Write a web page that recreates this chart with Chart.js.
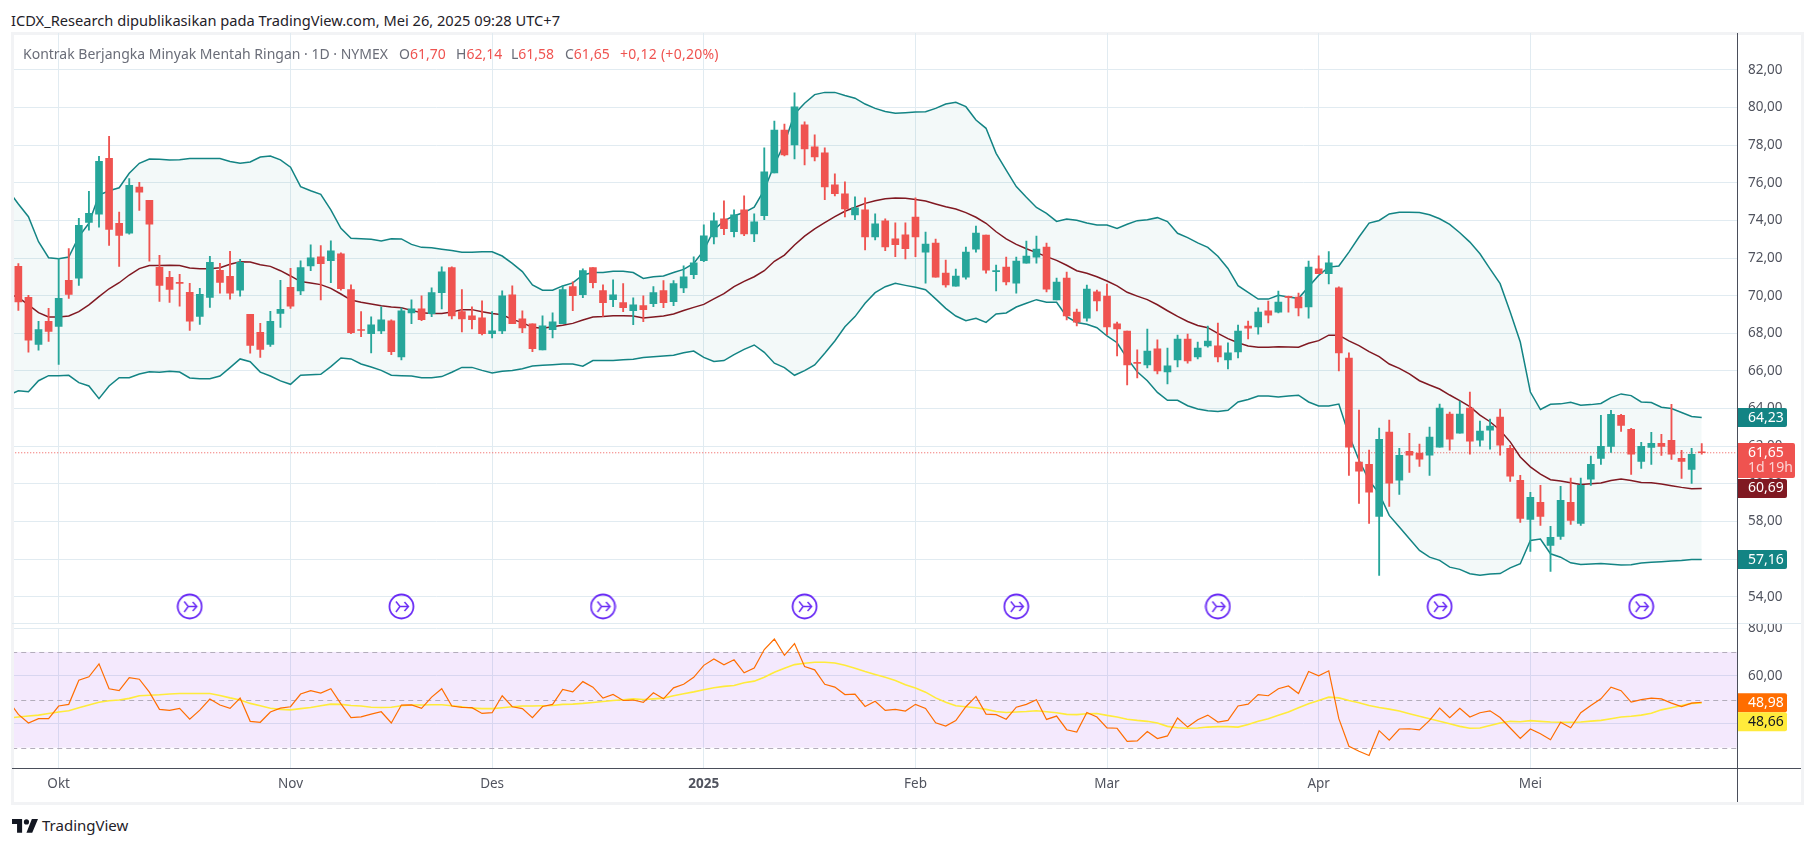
<!DOCTYPE html>
<html>
<head>
<meta charset="utf-8">
<title>Kontrak Berjangka Minyak Mentah Ringan</title>
<script src="https://cdn.jsdelivr.net/npm/chart.js@4/dist/chart.umd.min.js"></script>
<style>
  html, body { margin: 0; padding: 0; background: #fff; width: 1815px; height: 847px; overflow: hidden; font-family: "Noto Sans", sans-serif; }
  .abs { position: absolute; }
  .pane { position: absolute; left: 12px; width: 1789px; overflow: hidden; }
  .pane canvas { position: absolute; left: -12px; top: 0; }
  #publisher { left: 11px; top: 10px; font-size: 14.65px; color: #1f2229; white-space: nowrap; }
  .legend { top: 44px; font-size: 14px; color: #6a6d78; white-space: nowrap; z-index: 3; }
  .legend b { font-weight: normal; color: #ef5350; }
  #brand { left: 42px; top: 815px; font-size: 15px; color: #1f2229; }
</style>
</head>
<body>
<div class="abs" id="publisher">ICDX_Research dipublikasikan pada TradingView.com, Mei 26, 2025 09:28 UTC+7</div>
<div class="abs" style="left:11px;top:32px;width:1790px;height:3px;background:#f2f3f5"></div>
<div class="abs" style="left:11px;top:32px;width:3px;height:772px;background:#f2f3f5;z-index:2"></div>
<div class="abs" style="left:11px;top:802px;width:1790px;height:3px;background:#f2f3f5"></div>
<div class="abs" style="left:1801px;top:32px;width:3px;height:773px;background:#f2f3f5"></div>
<div class="pane" style="top:33px;height:590px"><canvas id="priceChart" width="1815" height="590"></canvas></div>
<div class="pane" style="top:623px;height:179px"><canvas id="rsiChart" width="1815" height="179"></canvas></div>
<div class="abs" style="left:12px;top:623px;width:1789px;height:1px;background:#e1ebf1;z-index:2"></div>
<div class="abs" style="left:12px;top:768px;width:1789px;height:1px;background:#4a4e5a;z-index:2"></div>
<div class="abs" style="left:1737px;top:33px;width:1px;height:769px;background:#4a4e5a;z-index:2"></div>
<div class="abs legend" style="left:23px">Kontrak Berjangka Minyak Mentah Ringan · 1D · NYMEX</div>
<div class="abs legend" style="left:399px">O<b>61,70</b></div>
<div class="abs legend" style="left:456px">H<b>62,14</b></div>
<div class="abs legend" style="left:511px">L<b>61,58</b></div>
<div class="abs legend" style="left:565px">C<b>61,65</b></div>
<div class="abs legend" style="left:620px;letter-spacing:0.25px"><b>+0,12 (+0,20%)</b></div>
<svg class="abs" style="left:12px;top:818px" width="26" height="15" viewBox="0 0 36 20"><path fill="#131722" d="M14 20H7V8H0V1h14v19zM28 20h-8l7.5-19H36L28 20z"/><circle cx="20" cy="5" r="3.6" fill="#131722"/></svg>
<div class="abs" id="brand">TradingView</div>

<script>
// candles, oldest first (Oct 2024 - May 2025)
const opens = [71.56,69.91,67.41,68.64,68.37,70.82,70.93,73.90,74.33,77.31,
  73.85,73.32,75.77,75.07,71.51,70.98,70.71,70.18,68.90,69.91,
  71.35,71.03,70.29,69.01,68.05,67.41,69.06,70.45,70.26,71.59,
  72.07,71.86,72.23,70.32,68.19,67.98,68.13,68.67,66.75,69.09,
  69.30,69.04,70.16,71.49,69.15,68.93,68.83,67.98,68.13,70.05,
  68.77,68.51,67.12,68.19,68.51,70.48,70.05,71.49,70.27,69.79,
  69.63,69.20,69.47,69.58,70.27,69.68,70.42,71.12,71.86,73.13,
  74.09,73.40,74.57,73.29,74.25,76.53,78.81,78.02,79.08,77.91,
  77.59,75.89,75.42,74.30,74.57,73.13,73.98,73.03,73.24,74.18,
  72.32,72.80,71.20,70.51,70.99,72.48,73.22,71.28,71.52,70.67,
  71.73,72.05,72.58,69.77,70.94,69.13,68.81,70.20,69.98,68.50,
  68.12,66.44,66.32,67.17,65.95,66.58,67.70,66.74,67.33,67.33,
  66.58,67.01,68.39,68.34,69.19,69.13,69.96,69.93,69.40,71.43,
  71.17,70.42,66.69,61.15,61.04,58.27,62.75,60.19,61.73,61.63,
  61.52,61.95,63.71,62.69,64.02,62.32,62.85,63.55,61.89,60.19,
  58.11,59.02,56.72,57.20,59.02,57.90,60.24,61.35,61.99,63.64,
  62.90,61.19,61.94,62.15,62.31,61.35,60.77,61.70];
const highs = [71.71,70.02,68.64,69.33,71.97,72.50,74.12,75.55,77.41,78.48,
  74.44,76.23,76.03,75.07,72.15,71.30,71.14,70.66,70.39,72.10,
  71.72,72.36,71.94,69.01,68.53,69.17,70.82,71.46,71.86,72.71,
  72.66,72.92,72.28,70.58,69.15,68.88,69.41,68.72,69.36,69.78,
  70.00,70.42,71.54,71.54,70.32,69.41,69.73,69.15,70.26,70.53,
  69.20,68.51,68.93,69.09,70.53,70.74,71.43,71.49,70.58,70.85,
  70.64,69.89,70.00,70.48,70.80,70.80,71.59,72.07,73.77,74.41,
  75.04,74.57,75.31,74.35,77.86,79.29,79.13,80.78,79.24,78.55,
  77.86,76.48,76.05,75.26,75.20,74.35,74.09,73.88,73.88,75.20,
  73.38,73.01,71.89,71.42,72.58,73.70,73.22,71.63,72.05,72.05,
  72.90,73.17,72.80,70.94,71.26,69.29,70.57,70.30,70.62,68.60,
  68.12,67.12,68.23,67.65,67.22,67.91,67.96,67.54,68.39,68.55,
  67.49,68.44,68.65,69.35,69.72,70.25,69.98,70.14,71.84,72.12,
  72.34,70.47,66.96,63.92,61.79,62.96,63.39,61.89,62.69,62.11,
  63.01,64.24,63.81,64.40,64.88,63.33,63.44,63.97,62.05,60.45,
  59.55,59.92,57.74,59.87,60.30,60.30,61.47,63.64,63.91,63.70,
  62.95,62.21,62.74,62.63,64.23,61.78,61.89,62.14];
const lows = [69.22,67.00,67.10,67.57,66.35,69.86,70.55,73.48,73.64,72.68,
  71.56,73.27,74.54,71.83,69.70,69.65,69.44,68.16,68.48,69.38,
  70.13,69.81,69.97,66.94,66.72,67.31,68.32,69.33,70.05,71.33,
  69.78,70.69,70.30,67.98,67.82,66.96,67.98,66.86,66.59,68.51,
  68.67,68.88,69.30,68.77,68.08,68.24,67.92,67.76,67.98,68.51,
  68.03,67.02,67.12,67.76,68.51,69.20,69.89,70.42,68.90,69.42,
  69.15,68.46,68.62,69.42,69.36,69.47,70.16,70.90,71.81,72.76,
  73.24,73.13,73.19,72.87,74.04,76.53,77.43,77.27,76.96,77.17,
  75.10,75.31,74.19,74.04,72.44,72.97,72.39,72.07,71.96,72.07,
  70.67,70.99,70.46,70.51,70.88,72.32,71.20,70.25,70.57,70.14,
  71.73,71.73,70.20,69.77,68.71,68.39,68.65,69.19,67.91,66.80,
  65.26,65.63,66.16,65.84,65.31,66.21,66.42,66.64,67.27,66.48,
  66.11,66.69,67.70,67.96,68.55,69.08,69.13,68.92,68.81,71.17,
  70.63,66.00,60.45,58.96,57.90,55.13,58.80,59.44,60.61,60.93,
  60.45,61.95,61.79,62.69,61.57,62.00,61.84,61.52,60.13,57.95,
  56.40,57.79,55.34,57.04,57.84,57.79,59.92,61.03,61.67,62.79,
  60.50,60.82,61.03,61.51,61.30,60.29,60.02,61.58];
const closes = [69.67,67.63,68.20,68.10,69.86,70.07,73.74,74.38,77.15,73.53,
  73.21,75.87,75.50,73.80,70.55,70.34,70.66,68.64,70.07,71.78,
  70.71,70.13,71.78,67.36,67.15,68.64,69.28,69.44,71.49,72.02,
  71.70,72.39,70.37,68.03,68.15,68.45,68.72,67.02,69.20,69.30,
  68.72,70.16,71.27,68.93,68.77,68.72,67.98,68.13,70.00,68.51,
  68.29,67.18,68.40,68.61,70.32,70.00,71.33,70.69,69.63,70.05,
  69.36,69.52,69.26,70.16,69.63,70.64,71.01,71.75,73.19,73.98,
  73.56,74.30,73.29,73.93,76.58,78.81,77.49,80.04,77.81,77.38,
  75.79,75.42,74.62,74.67,73.13,73.82,72.60,72.71,72.50,73.13,
  72.74,70.99,70.57,71.04,72.32,73.33,71.36,71.31,70.73,71.84,
  72.11,72.48,70.35,70.73,68.92,68.60,70.35,69.72,68.34,68.23,
  66.32,66.40,67.06,66.00,66.27,67.70,66.53,67.22,67.59,66.74,
  66.96,68.12,68.28,69.13,68.97,69.66,69.91,69.35,71.52,71.17,
  71.75,66.96,61.95,60.67,59.55,62.37,60.03,61.52,61.52,61.31,
  62.48,64.02,62.37,63.71,62.27,62.80,63.07,62.05,60.40,58.16,
  59.28,58.27,57.15,59.12,58.06,59.92,61.04,61.99,63.70,63.11,
  61.57,61.99,62.15,61.99,61.57,61.19,61.57,61.65];

// indicator arrays start one bar earlier than the candles (bar cut by the left edge)
const bbUpper = [75.6,
  74.88,74.2,72.87,72.02,71.97,72.06,73.14,73.85,75.35,75.58,
  75.74,76.51,77.04,77.27,77.25,77.22,77.23,77.29,77.29,77.29,
  77.29,77.14,77.04,77.11,77.37,77.43,77.22,76.83,75.8,75.58,
  75.39,74.56,73.58,73.05,73.03,73.0,72.91,73.03,73.02,72.73,
  72.57,72.55,72.47,72.4,72.31,72.31,72.34,72.34,72.11,71.72,
  71.28,70.57,70.29,70.29,70.52,70.68,71.1,71.23,71.24,71.3,
  71.3,71.23,70.92,71.01,71.05,71.23,71.4,71.72,72.41,73.5,
  73.98,74.25,74.42,74.71,75.63,76.96,78.1,79.66,80.23,80.69,
  80.81,80.81,80.64,80.5,80.19,79.96,79.79,79.7,79.73,79.77,
  79.78,79.96,80.19,80.28,80.05,79.34,78.9,77.57,76.68,75.8,
  75.23,74.69,74.38,73.95,74.08,74.01,73.87,73.76,73.76,73.58,
  73.8,73.99,74.04,74.15,73.94,73.32,73.09,72.81,72.57,72.1,
  71.45,70.53,70.18,69.82,69.82,70.02,69.93,69.86,70.48,71.08,
  71.52,71.58,72.32,73.12,73.86,74.0,74.35,74.44,74.44,74.42,
  74.3,74.09,73.79,73.35,72.85,72.23,71.43,70.64,69.13,67.54,
  64.88,63.95,64.23,64.25,64.34,64.18,64.21,64.27,64.58,64.78,
  64.69,64.35,64.32,64.07,64.0,63.79,63.58,63.52];
const bbBasis = [70.1,
  69.91,69.51,69.1,68.87,68.87,68.92,69.15,69.51,69.95,70.37,
  70.69,71.1,71.44,71.6,71.6,71.62,71.6,71.47,71.44,71.44,
  71.49,71.67,71.81,71.79,71.65,71.56,71.33,71.05,70.75,70.68,
  70.59,70.39,70.09,69.77,69.65,69.56,69.47,69.4,69.36,69.22,
  69.1,69.05,69.05,69.13,69.26,69.26,69.15,69.06,68.99,68.74,
  68.57,68.32,68.27,68.35,68.43,68.53,68.71,68.87,68.89,68.94,
  68.94,68.92,68.82,68.87,68.92,69.03,69.21,69.38,69.54,69.83,
  70.11,70.48,70.76,71.01,71.33,71.83,72.16,72.7,73.17,73.55,
  73.88,74.2,74.49,74.7,74.91,75.05,75.16,75.2,75.18,75.12,
  75.04,74.88,74.73,74.61,74.42,74.17,73.85,73.4,73.02,72.73,
  72.5,72.29,72.08,71.88,71.62,71.33,71.19,71.01,70.78,70.52,
  70.18,69.98,69.79,69.52,69.2,68.9,68.63,68.42,68.3,68.0,
  67.72,67.5,67.33,67.26,67.26,67.29,67.27,67.26,67.47,67.61,
  67.9,67.9,67.6,67.35,67.03,66.76,66.37,66.14,65.84,65.48,
  65.25,65.04,64.72,64.42,64.1,63.65,63.3,62.85,62.23,61.43,
  60.9,60.51,60.22,60.15,60.06,59.96,60.0,60.04,60.18,60.25,
  60.18,60.07,60.06,59.99,59.9,59.81,59.74,59.75];
const bbLower = [64.7,
  64.95,64.9,65.48,65.75,65.75,65.77,65.38,65.2,64.53,65.2,
  65.64,65.64,65.84,65.96,65.93,65.98,65.94,65.63,65.59,65.59,
  65.73,66.18,66.64,66.49,65.94,65.73,65.47,65.29,65.77,65.8,
  65.82,66.23,66.69,66.64,66.37,66.21,66.03,65.77,65.75,65.73,
  65.64,65.64,65.7,65.93,66.19,66.19,66.03,65.89,65.98,66.03,
  66.12,66.26,66.3,66.33,66.37,66.37,66.25,66.55,66.55,66.55,
  66.6,66.62,66.71,66.76,66.8,66.83,66.97,67.06,66.72,66.5,
  66.55,66.87,67.15,67.38,66.99,66.41,66.18,65.77,66.02,66.32,
  66.94,67.59,68.35,68.89,69.6,70.16,70.48,70.66,70.55,70.45,
  70.32,69.83,69.33,68.92,68.67,68.8,68.58,69.03,69.08,69.4,
  69.6,69.79,69.65,69.65,68.89,68.58,68.48,68.3,67.86,67.5,
  66.67,65.96,65.48,64.86,64.44,64.44,64.15,63.98,63.88,63.84,
  63.91,64.35,64.48,64.67,64.67,64.62,64.67,64.71,64.35,64.14,
  64.14,64.24,62.59,61.25,60.19,59.48,58.32,57.7,57.08,56.46,
  56.1,55.93,55.57,55.45,55.22,55.14,55.2,55.23,55.53,55.75,
  56.99,57.06,56.28,56.1,55.8,55.71,55.74,55.76,55.72,55.69,
  55.7,55.79,55.83,55.86,55.9,55.92,55.97,55.97];
const rsiValues = [49.7,
  43.9,40.3,42.1,42.1,47.4,48.1,58.2,59.6,65.0,54.6,
  53.8,59.3,58.6,53.2,46.0,45.6,46.4,41.9,45.7,50.3,
  47.8,46.4,50.7,41.0,40.6,44.9,46.5,47.1,52.4,53.8,
  52.8,54.6,48.3,42.6,42.9,44.0,45.0,40.3,47.8,47.9,
  46.4,51.1,54.6,47.4,46.8,46.7,44.3,44.6,51.7,47.1,
  46.3,42.5,47.2,48.1,54.3,53.3,57.6,55.3,50.7,52.2,
  49.7,49.9,48.9,52.9,50.4,55.0,56.5,59.4,64.4,67.1,
  64.6,66.7,61.3,63.3,71.0,75.4,68.6,73.5,63.9,62.5,
  56.5,55.3,52.2,52.4,47.2,49.4,45.6,46.0,45.3,48.1,
  46.4,40.4,39.0,41.3,47.1,51.4,44.0,43.8,41.9,46.9,
  48.1,50.0,41.8,43.2,37.5,36.5,44.7,42.8,38.3,38.1,
  32.6,32.8,36.7,33.8,34.9,42.4,38.6,41.7,43.6,40.7,
  41.4,47.4,48.2,52.2,51.7,54.6,55.8,52.6,61.8,60.0,
  62.1,42.1,30.6,28.5,26.7,37.1,33.1,37.8,37.9,37.4,
  41.4,46.5,42.5,46.4,42.8,44.6,45.4,42.6,38.2,33.9,
  37.8,35.8,33.3,40.6,38.3,44.6,47.6,50.4,55.3,53.8,
  49.0,50.1,50.7,50.4,48.6,47.2,48.6,48.98];
const rsiMa = [42.4,
  42.8,43.2,43.6,44.3,44.9,45.4,46.7,47.8,49.0,49.6,
  49.9,50.6,51.7,51.9,52.1,52.4,52.6,52.6,52.6,52.6,
  51.8,50.8,49.9,48.5,47.5,46.5,46.0,45.8,46.3,46.8,
  47.5,48.2,48.1,47.6,47.4,46.9,46.8,46.9,47.5,47.8,
  47.8,47.9,47.9,47.5,47.1,46.5,46.3,46.3,46.7,47.1,
  47.4,47.4,47.5,47.6,48.1,48.2,48.5,48.9,49.3,49.7,
  50.0,50.4,50.1,50.4,50.7,51.7,52.5,53.3,54.2,55.0,
  55.6,56.0,57.1,57.8,59.4,61.5,63.2,64.7,65.3,65.7,
  65.7,65.4,64.4,63.2,61.8,60.6,59.4,58.1,56.3,54.9,
  53.2,50.8,49.0,47.5,47.1,46.7,46.0,45.1,44.7,44.9,
  45.1,45.4,45.0,44.6,43.9,43.8,44.2,44.3,43.5,42.8,
  41.9,41.4,41.0,40.3,38.9,38.3,38.1,38.2,38.6,38.8,
  38.8,38.6,39.7,41.0,42.1,43.5,44.9,46.7,48.3,49.7,
  51.1,50.8,49.7,48.8,47.6,46.8,46.1,45.3,44.2,43.1,
  42.1,41.0,40.0,38.9,38.1,38.2,39.3,40.3,41.0,40.8,
  41.3,41.0,40.7,40.6,40.6,40.7,41.1,41.4,42.1,42.8,
  43.1,43.6,44.4,45.8,46.7,47.6,48.5,48.66];

const timeTickBars = [4, 27, 47, 68, 89, 108, 129, 150];
const timeTickNames = ['Okt', 'Nov', 'Des', '2025', 'Feb', 'Mar', 'Apr', 'Mei'];
const priceTicks = [54, 56, 58, 60, 62, 64, 66, 68, 70, 72, 74, 76, 78, 80, 82];
const rsiTicks = [80, 60, 40];
const rsiLevels = [70, 50, 30];
const rollBars = [17, 38, 58, 78, 99, 119, 141, 161];
const rollLevel = 53.48;

const UP = '#26a69a', DOWN = '#ef5350', BAND = '#138484', MID = '#801922';
const GRID = '#e1ebf1', LABEL = '#50535e', FONT = '"Noto Sans", sans-serif';
const SLOTS = 172;

// one empty slot in front for the cut off bar, room on the right up to the axis
const categories = Array.from({ length: SLOTS }, (_, i) => {
  const t = timeTickBars.indexOf(i - 1);
  return t >= 0 ? timeTickNames[t] : '';
});
const withGap = arr => [null].concat(arr);
const bodies = withGap(opens.map((o, i) => [o, closes[i]]));
const wicks = withGap(lows.map((l, i) => [l, highs[i]]));
const colors = withGap(opens.map((o, i) => closes[i] < o ? DOWN : UP));
const rollMarks = categories.map((_, i) => rollBars.includes(i - 1) ? rollLevel : null);

function money(v) { return v.toFixed(2).replace('.', ','); }

// contract roll marker
const rollIcon = document.createElement('canvas');
rollIcon.width = 27; rollIcon.height = 27;
(function () {
  const c = rollIcon.getContext('2d');
  c.strokeStyle = '#6a2cf5'; c.lineWidth = 1.8;
  c.beginPath(); c.arc(13.5, 13.5, 12, 0, Math.PI * 2); c.stroke();
  c.lineWidth = 1.5;
  c.beginPath();
  c.moveTo(12, 13.5); c.lineTo(20.5, 13.5);
  c.moveTo(16.5, 9); c.lineTo(20.5, 13.5); c.lineTo(16.5, 18);
  c.moveTo(8, 8.5); c.lineTo(12, 13.5); c.lineTo(8, 19);
  c.stroke();
})();

function drawTag(chart, y, h, fill, lines) {
  const c = chart.ctx, x = chart.chartArea.right, w = lines.wide ? 58 : 50;
  c.save();
  c.fillStyle = fill;
  c.beginPath();
  c.roundRect(x, y - h / 2, w, h, [0, 2, 2, 0]);
  c.fill();
  c.font = '14px ' + FONT;
  c.textBaseline = 'middle';
  lines.forEach((l, i) => {
    c.fillStyle = l.color;
    c.fillText(l.text, x + 11, y - (lines.length - 1) * 7.3 + i * 14.6);
  });
  c.restore();
}

const priceOverlay = {
  id: 'priceOverlay',
  beforeDatasetsDraw(chart) {
    const c = chart.ctx, y = chart.scales.y.getPixelForValue(closes[closes.length - 1]);
    c.save();
    c.strokeStyle = DOWN; c.lineWidth = 1; c.setLineDash([1, 2]);
    c.beginPath(); c.moveTo(chart.chartArea.left, y); c.lineTo(chart.chartArea.right, y); c.stroke();
    c.restore();
  },
  afterDraw(chart) {
    const s = chart.scales.y;
    const last = a => s.getPixelForValue(a[a.length - 1]);
    const white = text => ({ text, color: '#fff' });
    drawTag(chart, last(bbUpper), 19, BAND, [white('64,23')]);
    drawTag(chart, last(bbLower), 19, BAND, [white('57,16')]);
    drawTag(chart, last(bbBasis), 19, MID, [white('60,69')]);
    const two = [white('61,65'), { text: '1d 19h', color: '#fbd5d4' }];
    two.wide = true;
    drawTag(chart, last(closes) + 7.8, 35, DOWN, two);
  }
};

const rsiOverlay = {
  id: 'rsiOverlay',
  beforeDatasetsDraw(chart) {
    const c = chart.ctx, s = chart.scales.y, a = chart.chartArea;
    const top = s.getPixelForValue(rsiLevels[0]), bottom = s.getPixelForValue(rsiLevels[2]);
    c.save();
    c.fillStyle = 'rgba(140,20,235,0.095)';
    c.fillRect(a.left, top, a.right - a.left, bottom - top);
    c.strokeStyle = '#b3adbb'; c.lineWidth = 1; c.setLineDash([5, 4]);
    rsiLevels.forEach(v => {
      const y = Math.round(s.getPixelForValue(v)) + 0.5;
      c.beginPath(); c.moveTo(a.left, y); c.lineTo(a.right, y); c.stroke();
    });
    c.restore();
  },
  afterDraw(chart) {
    const s = chart.scales.y;
    const yRsi = s.getPixelForValue(rsiValues[rsiValues.length - 1]) + 0.5;
    drawTag(chart, yRsi, 19, '#ff6d00', [{ text: '48,98', color: '#fff' }]);
    drawTag(chart, yRsi + 19, 19, '#ffeb3b', [{ text: '48,66', color: '#131722' }]);
  }
};

function xScale(showLabels) {
  return {
    type: 'category',
    offset: true,
    grid: { offset: false, color: GRID, drawTicks: false },
    border: { display: false },
    afterBuildTicks(s) { s.ticks = timeTickBars.map(b => ({ value: b + 1 })); },
    afterFit(s) { s.height = showLabels ? 34 : 0; },
    ticks: {
      display: showLabels, autoSkip: false, maxRotation: 0, padding: 8, color: LABEL,
      font: ctx => ({ family: FONT, size: 13.5, weight: ctx.tick && ctx.tick.label === '2025' ? 'bold' : 'normal' })
    }
  };
}

function yScale(min, max, ticks) {
  return {
    position: 'right', min, max,
    grid: { color: GRID, drawTicks: false },
    border: { display: false },
    afterBuildTicks(s) { s.ticks = ticks.map(value => ({ value })); },
    afterFit(s) { s.width = 78; s.paddingTop = 0; s.paddingBottom = 0; },
    ticks: { padding: 11, color: LABEL, font: { family: FONT, size: 13.5 }, callback: money }
  };
}

const lineSet = (data, color, width, extra) => Object.assign({
  type: 'line', data, borderColor: color, borderWidth: width, pointRadius: 0, tension: 0, fill: false
}, extra);

const baseOptions = { responsive: false, animation: false, events: [], plugins: { legend: { display: false }, tooltip: { enabled: false } } };

new Chart(document.getElementById('priceChart'), {
  type: 'bar',
  data: {
    labels: categories,
    datasets: [
      lineSet(bbUpper, BAND, 1.5, { order: 4, fill: { target: '+2' }, backgroundColor: 'rgba(19,132,132,0.05)' }),
      lineSet(bbBasis, MID, 1.5, { order: 3 }),
      lineSet(bbLower, BAND, 1.5, { order: 2 }),
      { type: 'bar', data: wicks, backgroundColor: colors, barThickness: 1.2, grouped: false, order: 1 },
      { type: 'bar', data: bodies, backgroundColor: colors, barThickness: 7, grouped: false, minBarLength: 1, order: 0 },
      lineSet(rollMarks, 'transparent', 0, { showLine: false, pointStyle: rollIcon, pointRadius: 13, order: -1 })
    ]
  },
  options: Object.assign({}, baseOptions, {
    layout: { autoPadding: false, padding: { left: 3.24 } },
    scales: { x: xScale(false), y: yScale(52.6, 83.967, priceTicks) }
  }),
  plugins: [priceOverlay]
});

new Chart(document.getElementById('rsiChart'), {
  type: 'line',
  data: {
    labels: categories,
    datasets: [
      lineSet(rsiValues, '#ff6d00', 1.2, { order: 0 }),
      lineSet(rsiMa, '#ffeb3b', 1.6, { order: 1 })
    ]
  },
  options: Object.assign({}, baseOptions, {
    layout: { autoPadding: false, padding: { left: 3.24, top: 5 } },
    scales: { x: xScale(true), y: yScale(21.5, 80, rsiTicks) }
  }),
  plugins: [rsiOverlay]
});
</script>
</body>
</html>
